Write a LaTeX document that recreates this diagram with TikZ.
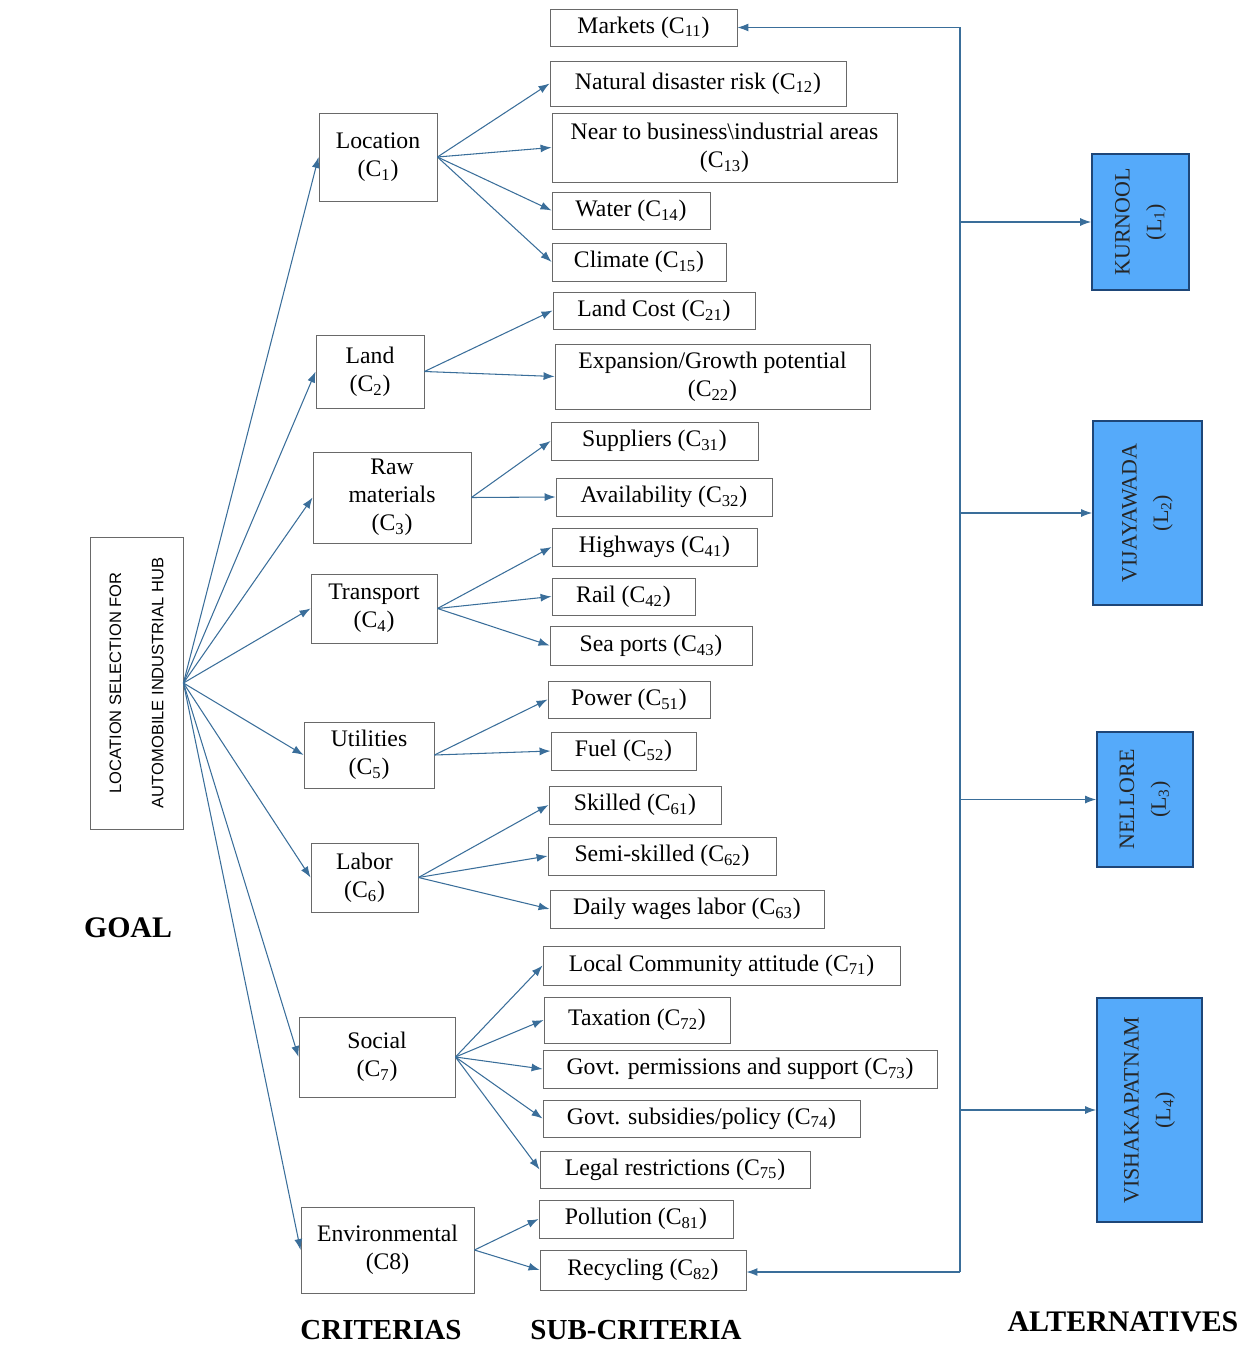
\documentclass[tikz,border=0pt]{standalone}
\usepackage{fontspec}
\setmainfont{Liberation Serif}
\newfontfamily\goalfont{Liberation Sans}
\usetikzlibrary{arrows.meta}

\definecolor{arrowblue}{RGB}{58,110,154}
\definecolor{boxgray}{RGB}{105,105,105}
\definecolor{altfill}{RGB}{85,170,250}
\definecolor{altedge}{RGB}{30,70,120}

\newcommand{\Cs}[1]{C\textsubscript{#1}}
\newcommand{\Ls}[1]{L\textsubscript{#1}}

\begin{document}
\begin{tikzpicture}[x=0.02cm,y=-0.02cm,
    box/.style={draw=boxgray,line width=.5pt,inner sep=2pt,align=center,
      font=\fontsize{13.5}{16}\selectfont},
    bw/.style={minimum width=#1*0.02cm},
    bh/.style={minimum height=#1*0.02cm},
    alt/.style={draw=altedge,fill=altfill,line width=1pt,rotate=90,align=center,
      text=black!85,font=\fontsize{12.5}{18}\selectfont},
    arr/.style={draw=arrowblue,line width=.6pt,-{Latex[length=2.2mm,width=1.6mm]}},
    head/.style={font=\fontsize{16.5}{18}\selectfont\bfseries}]

      \useasboundingbox (0,0) rectangle (1252,1345);

      % goal
      \path (136.5,683) node[box,rotate=90,bw=292,bh=93,
        font=\goalfont\fontsize{9.4}{24}\selectfont] (g)
        {LOCATION SELECTION FOR\\AUTOMOBILE INDUSTRIAL HUB};

      % criterias
      \path (378,157)    node[box,bw=118,bh=88] (c1) {Location\\(\Cs{1})};
      \path (370,371.5)  node[box,bw=108,bh=73] (c2) {Land\\(\Cs{2})};
      \path (392,497.5)  node[box,bw=158,bh=91] (c3) {Raw\\materials\\(\Cs{3})};
      \path (374,608.5)  node[box,bw=126,bh=69] (c4) {Transport\\(\Cs{4})};
      \path (369,755)    node[box,bw=130,bh=66] (c5) {Utilities\\(\Cs{5})};
      \path (364.5,877.5) node[box,bw=107,bh=69] (c6) {Labor\\(\Cs{6})};
      \path (377,1057)   node[box,bw=156,bh=80] (c7) {Social\\(\Cs{7})};
      \path (387.5,1250) node[box,bw=173,bh=86] (c8) {Environmental\\(C8)};

      % sub-criteria
      \path (643.5,27.5) node[box,bw=187,bh=37] (c11) {Markets (\Cs{11})};
      \path (698,83.5)   node[box,bw=296,bh=45] (c12) {Natural disaster risk (\Cs{12})};
      \path (724.5,147.5) node[box,bw=345,bh=69] (c13) {Near to business\textbackslash industrial areas\\(\Cs{13})};
      \path (631,210.5)  node[box,bw=158,bh=37] (c14) {Water (\Cs{14})};
      \path (639,262)    node[box,bw=174,bh=38] (c15) {Climate (\Cs{15})};
      \path (654,310.5)  node[box,bw=202,bh=37] (c21) {Land Cost (\Cs{21})};
      \path (712.5,376.5) node[box,bw=315,bh=65] (c22) {Expansion/Growth potential\\(\Cs{22})};
      \path (654.5,441)  node[box,bw=207,bh=38] (c31) {Suppliers (\Cs{31})};
      \path (664,497)    node[box,bw=216,bh=38] (c32) {Availability (\Cs{32})};
      \path (654.5,547)  node[box,bw=205,bh=38] (c41) {Highways (\Cs{41})};
      \path (623.5,596.5) node[box,bw=143,bh=37] (c42) {Rail (\Cs{42})};
      \path (651,645.5)  node[box,bw=202,bh=39] (c43) {Sea ports (\Cs{43})};
      \path (629,699.5)  node[box,bw=162,bh=37] (c51) {Power (\Cs{51})};
      \path (623.5,751)  node[box,bw=145,bh=38] (c52) {Fuel (\Cs{52})};
      \path (635,805)    node[box,bw=172,bh=38] (c61) {Skilled (\Cs{61})};
      \path (662,856)    node[box,bw=228,bh=38] (c62) {Semi-skilled (\Cs{62})};
      \path (687,909)    node[box,bw=274,bh=38] (c63) {Daily wages labor (\Cs{63})};
      \path (721.5,965.5) node[box,bw=357,bh=39] (c71) {Local Community attitude (\Cs{71})};
      \path (637,1020)   node[box,bw=186,bh=46] (c72) {Taxation (\Cs{72})};
      \path (740,1069)   node[box,bw=394,bh=38] (c73) {Govt. permissions and support (\Cs{73})};
      \path (701.5,1118.5) node[box,bw=317,bh=37] (c74) {Govt. subsidies/policy (\Cs{74})};
      \path (675,1169.5) node[box,bw=270,bh=37] (c75) {Legal restrictions (\Cs{75})};
      \path (636,1219)   node[box,bw=194,bh=38] (c81) {Pollution (\Cs{81})};
      \path (643,1270)   node[box,bw=206,bh=40] (c82) {Recycling (\Cs{82})};

      % alternatives (rotated: width runs upwards)
      \path (1140.5,222)  node[alt,bw=136,bh=97]  (l1) {KURNOOL\\(\Ls{1})};
      \path (1147.5,513)  node[alt,bw=184,bh=109] (l2) {VIJAYAWADA\\(\Ls{2})};
      \path (1145,799.5)  node[alt,bw=135,bh=96]  (l3) {NELLORE\\(\Ls{3})};
      \path (1149.5,1110) node[alt,bw=224,bh=105] (l4) {VISHAKAPATNAM\\(\Ls{4})};

      % headings
      \path (128,928)   node[head,font=\fontsize{17}{18}\selectfont\bfseries] (hg) {GOAL};
      \path (381,1330)  node[head] (hc) {CRITERIAS};
      \path (636,1330)  node[head] (hs) {SUB-CRITERIA};
      \path (1123,1322) node[head,font=\fontsize{17}{18}\selectfont\bfseries] (ha) {ALTERNATIVES};

      % goal to criterias (g.south is the right side after rotation)
      \draw[arr] (g.south) -- (c1.west);
      \draw[arr] (g.south) -- (c2.west);
      \draw[arr] (g.south) -- (c3.west);
      \draw[arr] (g.south) -- (c4.west);
      \draw[arr] (g.south) -- (c5.west);
      \draw[arr] (g.south) -- (c6.west);
      \draw[arr] (g.south) -- (c7.west);
      \draw[arr] (g.south) -- (c8.west);

      % criterias to sub-criteria
      \draw[arr] (c1.east) -- (c12.west);
      \draw[arr] (c1.east) -- (c13.west);
      \draw[arr] (c1.east) -- (c14.west);
      \draw[arr] (c1.east) -- (c15.west);
      \draw[arr] (c2.east) -- (c21.west);
      \draw[arr] (c2.east) -- (c22.west);
      \draw[arr] (c3.east) -- (c31.west);
      \draw[arr] (c3.east) -- (c32.west);
      \draw[arr] (c4.east) -- (c41.west);
      \draw[arr] (c4.east) -- (c42.west);
      \draw[arr] (c4.east) -- (c43.west);
      \draw[arr] (c5.east) -- (c51.west);
      \draw[arr] (c5.east) -- (c52.west);
      \draw[arr] (c6.east) -- (c61.west);
      \draw[arr] (c6.east) -- (c62.west);
      \draw[arr] (c6.east) -- (c63.west);
      \draw[arr] (c7.east) -- (c71.west);
      \draw[arr] (c7.east) -- (c72.west);
      \draw[arr] (c7.east) -- (c73.west);
      \draw[arr] (c7.east) -- (c74.west);
      \draw[arr] (c7.east) -- (c75.west);
      \draw[arr] (c8.east) -- (c81.west);
      \draw[arr] (c8.east) -- (c82.west);

      % bus to the alternatives
      \coordinate (bt) at (960,27.5);
      \coordinate (bb) at (960,1272);
      \draw[draw=arrowblue,line width=.8pt] (bt) -- (bb);
      \draw[arr] (bt) -- (c11);
      \draw[arr] (bb) -- (c82.east |- bb);
      \draw[arr] (bt |- l1) -- (l1);
      \draw[arr] (bt |- l2) -- (l2);
      \draw[arr] (bt |- l3) -- (l3);
      \draw[arr] (bt |- l4) -- (l4);
   \end{tikzpicture}
\end{document}
